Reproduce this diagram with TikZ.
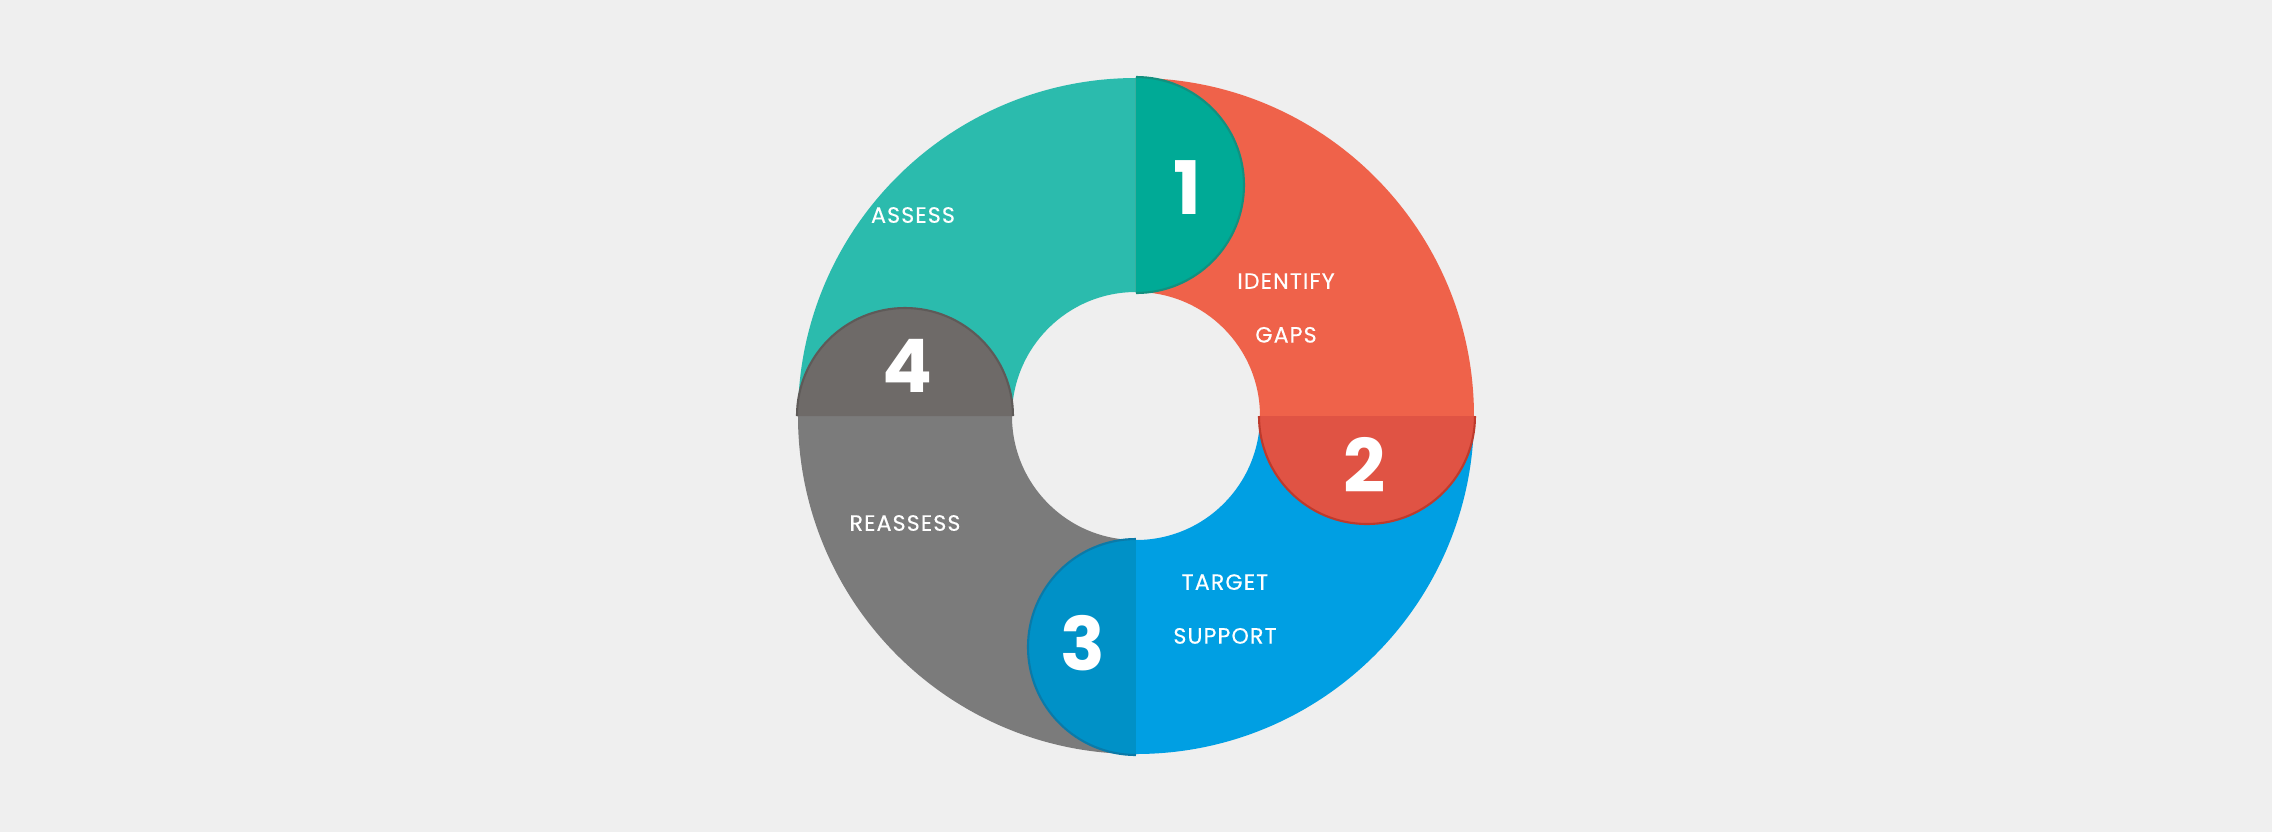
\documentclass[tikz,border=0pt]{standalone}
\usepackage{fontspec}
\setmainfont{Poppins}
\newfontfamily\labelfont{Poppins}[FakeBold=0.3, LetterSpace=5]
\usepackage{tikz}

\definecolor{bgcol}{HTML}{EFEFEF}
\definecolor{assesscol}{HTML}{2BBBAD}
\definecolor{gapscol}{HTML}{EF624A}
\definecolor{supportcol}{HTML}{009FE3}
\definecolor{reassesscol}{HTML}{7B7B7B}
\definecolor{assessdark}{HTML}{00AA96}
\definecolor{gapsdark}{HTML}{E05344}
\definecolor{supportdark}{HTML}{0091C7}
\definecolor{reassessdark}{HTML}{6E6A68}
\definecolor{assessedge}{HTML}{12907F}
\definecolor{gapsedge}{HTML}{BE3A2C}
\definecolor{supportedge}{HTML}{0B7AA8}
\definecolor{reassessedge}{HTML}{5E5A58}

\begin{document}
\begin{tikzpicture}[x=0.01cm,y=0.01cm,
    steplabel/.style={text=white, align=center, inner sep=0pt,
      font=\labelfont\fontsize{6.3}{15.3}\selectfont},
    stepnum/.style={text=white, inner sep=0pt,
      font=\fontsize{21}{21}\selectfont\bfseries}]

        \fill[bgcol] (-1136,-416) rectangle (1136,416);
        \useasboundingbox (-1136,-416) rectangle (1136,416);

        \foreach \a/\c in {90/assesscol, 0/gapscol, 270/supportcol, 180/reassesscol}
          \fill[\c] (\a:338) arc[start angle=\a, end angle=\a+90, radius=338]
            -- (\a+90:124) arc[start angle=\a+90, end angle=\a, radius=124] -- cycle;

        \foreach \a/\c/\e in {90/assessdark/assessedge, 0/gapsdark/gapsedge,
                              270/supportdark/supportedge, 180/reassessdark/reassessedge}
        {
          \fill[\c, shift={(\a:231)}] (\a-180:108)
            arc[start angle=\a-180, end angle=\a, radius=108] -- cycle;
          \draw[\e, line width=0.6pt, shift={(\a:231)}] (\a-180:108)
            arc[start angle=\a-180, end angle=\a, radius=108];
        }

        \begin{scope}[every node/.style={stepnum}]
          \node (1) at (51,228) {1};
          \node (2) at (229,-49) {2};
          \node (3) at (-53,-227) {3};
          \node (4) at (-228,50) {4};
        \end{scope}

        \begin{scope}[every node/.style={steplabel}]
          \node (assess)   at (-223,201) {ASSESS};
          \node (gaps)     at (150,108)  {IDENTIFY\\GAPS};
          \node (support)  at (89,-193)  {TARGET\\SUPPORT};
          \node (reassess) at (-231,-107) {REASSESS};
        \end{scope}

      \end{tikzpicture}
\end{document}
